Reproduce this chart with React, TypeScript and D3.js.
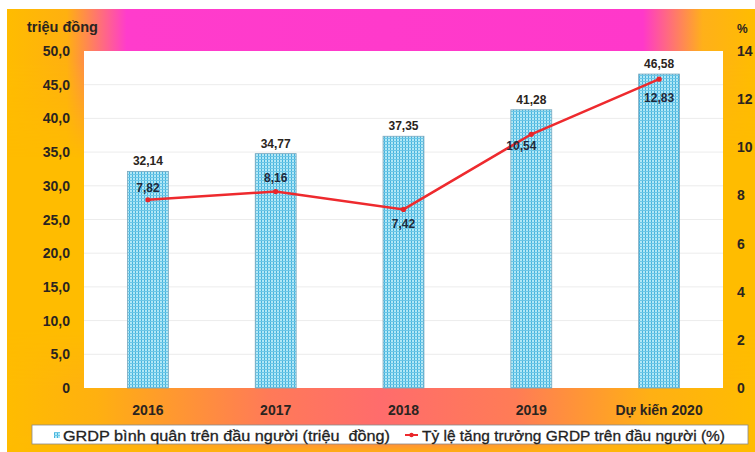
import React from "react";
import * as d3 from "d3";

const categories = ["2016", "2017", "2018", "2019", "Dự kiến 2020"];
const grdpValues = [32.14, 34.77, 37.35, 41.28, 46.58];
const growthValues = [7.82, 8.16, 7.42, 10.54, 12.83];
const leftTicks = [0, 5, 10, 15, 20, 25, 30, 35, 40, 45, 50];
const rightTicks = [0, 2, 4, 6, 8, 10, 12, 14];
const barSeriesName = "GRDP bình quân trên đầu người (triệu  đồng)";
const lineSeriesName = "Tỷ lệ tăng trưởng GRDP trên đầu người (%)";
const leftUnit = "triệu đồng";
const rightUnit = "%";

// label placement for line values: above (-) or below (+), and x shift
const lineLabelDy = [-8, -10, 19, 16, 23];
const lineLabelDx = [0, 0, 0, -10, 0];

const W = 755;
const H = 452;
const plot = { left: 84, right: 723, top: 51, bottom: 388 };

const fmt = (v: number, d: number) => v.toFixed(d).replace(".", ",");

export default function App() {
  const x = d3
    .scaleBand<string>()
    .domain(categories)
    .range([plot.left, plot.right])
    .paddingInner(0.68)
    .paddingOuter(0.34);
  const yL = d3.scaleLinear().domain([0, 50]).range([plot.bottom, plot.top]);
  const yR = d3.scaleLinear().domain([0, 14]).range([plot.bottom, plot.top]);
  const cx = (c: string) => (x(c) ?? 0) + x.bandwidth() / 2;

  const line = d3
    .line<number>()
    .x((_, i) => cx(categories[i]))
    .y((d) => yR(d));

  const font = "'Liberation Sans', Arial, sans-serif";
  const dark = "#2a2420";

  return (
    <svg
      width={W}
      height={H}
      style={{ position: "absolute", left: 0, top: 0, display: "block" }}
      fontFamily={font}
    >
      <defs>
        <linearGradient id="topBand" x1="0" x2="1" y1="0" y2="0">
          <stop offset="0" stopColor="#ffbc00" />
          <stop offset="0.08" stopColor="#ffb010" />
          <stop offset="0.16" stopColor="#ff3ccc" />
          <stop offset="0.85" stopColor="#ff38ca" />
          <stop offset="0.93" stopColor="#ffb01a" />
          <stop offset="1" stopColor="#ffbc00" />
        </linearGradient>
        <linearGradient id="topFade" x1="0" x2="0" y1="0" y2="1">
          <stop offset="0" stopColor="white" stopOpacity="1" />
          <stop offset="0.35" stopColor="white" stopOpacity="1" />
          <stop offset="1" stopColor="white" stopOpacity="0" />
        </linearGradient>
        <mask id="topMask">
          <rect x={0} y={9} width={W} height={150} fill="url(#topFade)" />
        </mask>
        <linearGradient id="botBand" x1="0" x2="1" y1="0" y2="0">
          <stop offset="0" stopColor="#ffbc00" />
          <stop offset="0.12" stopColor="#ffb010" />
          <stop offset="0.35" stopColor="#ff7a58" />
          <stop offset="0.5" stopColor="#ff6c6c" />
          <stop offset="0.68" stopColor="#ff7c56" />
          <stop offset="0.86" stopColor="#ffb014" />
          <stop offset="1" stopColor="#ffbc00" />
        </linearGradient>
        <linearGradient id="botFade" x1="0" x2="0" y1="0" y2="1">
          <stop offset="0" stopColor="white" stopOpacity="0" />
          <stop offset="0.45" stopColor="white" stopOpacity="1" />
          <stop offset="0.85" stopColor="white" stopOpacity="1" />
          <stop offset="1" stopColor="white" stopOpacity="0.2" />
        </linearGradient>
        <mask id="botMask">
          <rect x={0} y={330} width={W} height={122} fill="url(#botFade)" />
        </mask>
        <pattern id="barPat" width={3} height={3} patternUnits="userSpaceOnUse">
          <rect width={3} height={3} fill="#b2e8f6" />
          <rect x={0} y={0} width={1} height={3} fill="#45b2de" />
          <rect x={0} y={0} width={3} height={1} fill="#6cc6e6" />
        </pattern>
      </defs>

      {/* background */}
      <rect x={7} y={9} width={W - 7} height={H - 9} fill="#ffbc00" />
      <rect x={7} y={9} width={W - 7} height={150} fill="url(#topBand)" mask="url(#topMask)" />
      <rect x={7} y={330} width={W - 7} height={122} fill="url(#botBand)" mask="url(#botMask)" />

      {/* plot area */}
      <rect
        x={plot.left}
        y={plot.top}
        width={plot.right - plot.left}
        height={plot.bottom - plot.top}
        fill="#ffffff"
      />

      {/* gridlines */}
      {leftTicks
        .filter((t) => t > 0 && t < 50)
        .map((t) => (
          <line
            key={"g" + t}
            x1={plot.left}
            x2={plot.right}
            y1={yL(t)}
            y2={yL(t)}
            stroke="#ececec"
            strokeWidth={1}
          />
        ))}

      {/* bars */}
      {categories.map((c, i) => (
        <rect
          key={"b" + c}
          x={x(c)}
          y={yL(grdpValues[i])}
          width={x.bandwidth()}
          height={plot.bottom - yL(grdpValues[i])}
          fill="url(#barPat)"
          stroke="#7aa6bc"
          strokeWidth={0.8}
        />
      ))}

      {/* bar labels */}
      {categories.map((c, i) => (
        <text
          key={"bl" + c}
          x={cx(c)}
          y={yL(grdpValues[i]) - 6}
          textAnchor="middle"
          fontSize={12}
          fontWeight="bold"
          fill={dark}
        >
          {fmt(grdpValues[i], 2)}
        </text>
      ))}

      {/* line */}
      <path d={line(growthValues) ?? ""} fill="none" stroke="#ee2a2e" strokeWidth={2.5} />
      {growthValues.map((v, i) => (
        <circle key={"p" + i} cx={cx(categories[i])} cy={yR(v)} r={2.6} fill="#e8262a" />
      ))}
      {growthValues.map((v, i) => (
        <text
          key={"ll" + i}
          x={cx(categories[i]) + lineLabelDx[i]}
          y={yR(v) + lineLabelDy[i]}
          textAnchor="middle"
          fontSize={12}
          fontWeight="bold"
          fill="#1e2a3c"
        >
          {fmt(v, 2)}
        </text>
      ))}

      {/* left axis labels */}
      {leftTicks.map((t) => (
        <text
          key={"lt" + t}
          x={70}
          y={yL(t)}
          dy="0.36em"
          textAnchor="end"
          fontSize={14}
          fontWeight="bold"
          fill={dark}
        >
          {t === 0 ? "0" : fmt(t, 1)}
        </text>
      ))}
      <text x={27} y={32} fontSize={14.5} fontWeight="bold" fill={dark}>
        {leftUnit}
      </text>

      {/* right axis labels */}
      {rightTicks.map((t) => (
        <text
          key={"rt" + t}
          x={737}
          y={yR(t)}
          dy="0.36em"
          textAnchor="start"
          fontSize={14}
          fontWeight="bold"
          fill={dark}
        >
          {t}
        </text>
      ))}
      <text x={737} y={33} fontSize={12} fontWeight="bold" fill={dark}>
        {rightUnit}
      </text>

      {/* x labels */}
      {categories.map((c) => (
        <text
          key={"xl" + c}
          x={cx(c)}
          y={415}
          textAnchor="middle"
          fontSize={14}
          fontWeight="bold"
          fill={dark}
        >
          {c}
        </text>
      ))}

      {/* legend */}
      <rect x={32} y={425} width={716} height={19} fill="#ffffff" stroke="#8a8a8a" strokeWidth={0.8} />
      <rect x={54} y={432} width={6} height={6} fill="url(#barPat)" />
      <text
        x={63}
        y={440.5}
        fontSize={15}
        fill="#222"
        stroke="#222"
        strokeWidth={0.3}
        textLength={327}
        lengthAdjust="spacingAndGlyphs"
        style={{ whiteSpace: "pre" }}
      >
        {barSeriesName}
      </text>
      <line x1={405} x2={418} y1={435} y2={435} stroke="#ee2a2e" strokeWidth={2} />
      <circle cx={411.5} cy={435} r={2.2} fill="#e8262a" />
      <text
        x={422}
        y={440.5}
        fontSize={15}
        fill="#222"
        stroke="#222"
        strokeWidth={0.3}
        textLength={303}
        lengthAdjust="spacingAndGlyphs"
        style={{ whiteSpace: "pre" }}
      >
        {lineSeriesName}
      </text>
    </svg>
  );
}
